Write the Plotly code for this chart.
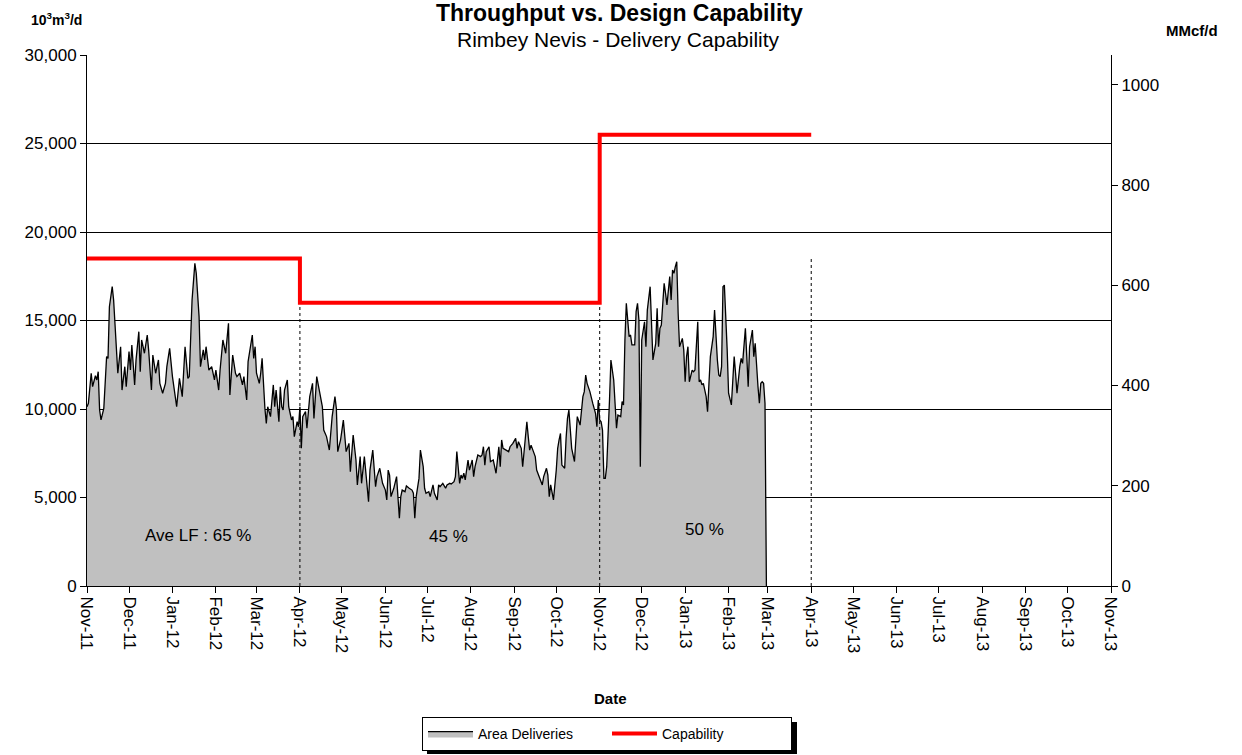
import pandas as pd
import plotly.graph_objects as go

# ---------------- data ----------------
start_date = "2011-11-01"

delivery_day = [
    0, 1, 3, 4, 6, 7, 8, 9, 10, 12, 14, 15, 16, 18, 19, 20, 22, 24, 25, 27, 28, 30, 31, 32, 34, 35, 37, 38, 39, 41,
    43, 44, 46, 47, 49, 51, 52, 54, 56, 57, 59, 61, 62, 64, 66, 68, 70, 72, 73, 75, 77, 78, 80, 81, 83, 84, 85, 87,
    89, 91, 92, 94, 95, 97, 99, 100, 101, 102, 104, 106, 107, 109, 111, 112, 114, 115, 116, 118, 119, 120, 121, 123,
    124, 125, 127, 128, 129, 131, 133, 134, 135, 137, 138, 139, 140, 141, 143, 144, 145, 146, 147, 148, 150, 151, 152,
    153, 154, 156, 157, 159, 161, 162, 164, 166, 168, 169, 171, 173, 175, 177, 178, 179, 181, 182, 183, 185, 187, 188,
    190, 192, 193, 195, 196, 198, 200, 201, 202, 204, 206, 207, 209, 211, 213, 214, 215, 216, 217, 219, 221, 222, 223,
    224, 225, 227, 228, 230, 232, 233, 234, 235, 237, 238, 240, 241, 242, 244, 245, 247, 248, 250, 251, 252, 254, 256,
    257, 259, 260, 262, 263, 264, 266, 267, 268, 269, 270, 272, 273, 274, 275, 276, 277, 279, 281, 282, 283, 284, 285,
    287, 288, 290, 292, 293, 294, 295, 296, 297, 299, 301, 302, 304, 306, 307, 308, 310, 311, 313, 314, 315, 316, 317,
    319, 320, 321, 323, 325, 326, 328, 329, 330, 331, 332, 333, 335, 336, 337, 338, 339, 341, 342, 343, 344, 345, 346,
    348, 349, 350, 352, 354, 355, 356, 357, 359, 361, 363, 364, 365, 366, 367, 368, 369, 370, 371, 373, 374, 376, 377,
    378, 379, 381, 382, 383, 384, 385, 387, 388, 389, 391, 392, 393, 394, 395, 396, 398, 399, 400, 402, 403, 404, 406,
    407, 408, 409, 410, 412, 413, 414, 416, 417, 418, 419, 420, 421, 422, 423, 425, 426, 427, 428, 429, 430, 432, 433,
    434, 436, 437, 438, 439, 440, 442, 443, 444, 445, 447, 448, 450, 451, 452, 453, 454, 455, 457, 458, 460, 461, 462,
    463, 464, 466, 467, 468, 470, 471, 472, 473, 475, 476, 477, 479, 480, 481, 482, 483, 484, 485,
]

delivery_value = [
    10130, 10320, 12020, 11260, 11880, 11640, 12110, 9940, 9380, 10040, 12960, 12860, 15780, 16910, 16160, 14650,
    12020, 13520, 11070, 12390, 11260, 13240, 12200, 13620, 11360, 12770, 14370, 12110, 13900, 13150, 14180, 13340,
    11070, 13050, 12020, 12770, 11450, 10890, 11450, 12390, 13430, 11830, 11260, 10130, 11730, 10700, 13520, 11730,
    11830, 16160, 18230, 17670, 15220, 12390, 13340, 12770, 13520, 12200, 12390, 11640, 12200, 11070, 12200, 13900,
    13150, 14090, 14840, 10790, 13050, 12020, 11830, 12020, 11360, 11830, 10510, 12680, 13150, 14180, 12860, 13520,
    12020, 11450, 12020, 12860, 10040, 9190, 10130, 9570, 11360, 10130, 11070, 9280, 11260, 10130, 9940, 11070, 11640,
    10130, 9760, 9380, 9570, 8440, 9280, 9000, 10130,
    7780, 9570, 9850, 8910, 10700, 11450, 9470, 11830, 10890, 10130, 8810, 8440, 7680, 9570, 10700, 10040, 7590, 8250,
    8810, 9380, 7590, 8060, 6460, 8530, 7120, 5710, 7310, 5800, 7310, 5610, 4760, 6550, 7680, 5610, 6180, 6650, 5800,
    5420, 4860, 6550, 6270, 5050, 5520, 6180, 4950, 3830, 5050, 5420, 5330, 5650, 5520, 5420, 5240, 3830, 5050, 6080,
    7680, 6740, 5520, 5240, 5330, 5050, 5710, 5240, 4860, 5710, 5610, 5800, 5520, 5710, 5800, 5760, 5890, 6180, 7590,
    5800, 6270, 6080, 6370, 6000, 7120, 6550, 6830, 7120, 6180, 6740, 7400, 7310, 7400, 7870, 6830, 7590, 7870, 7030,
    7120, 6370, 7120, 7870, 6740, 8250, 7780, 7680, 7590, 7870, 8060, 8340, 7780, 8150, 7780, 6740, 8440, 9280, 8440,
    7680, 7960, 7590, 7310, 6550, 6180, 5710, 6180, 6650, 6270, 5050, 5710, 5330, 4860, 6550, 7780, 8250, 8620, 6830,
    6650, 8340, 9470, 9940, 8810, 7780, 7030, 8720, 9570, 9090, 10700, 10980, 11920, 11450, 10980,
    10330, 9760, 9000, 10510, 9380, 9280, 8810, 6080, 6080, 6740, 10510, 12770, 11640, 10130, 8910, 9660, 9570, 10420,
    10230, 13900, 15970, 14090, 14180, 13620, 13620, 15500, 15970, 15030, 6740, 13900, 14930, 13520, 15590, 16910,
    14650, 12770, 13710, 15690, 13520, 14560, 14740, 17100, 16540, 15880, 17480, 16160, 17850, 17670, 18040, 18320,
    15410, 13520, 13990, 13340, 11540, 12960, 13520, 11540, 12200, 12110, 12200, 14930, 11540, 11640, 11360, 11450,
    10700, 9850, 11450, 12960, 14090, 15590, 12770, 11920, 11830, 12390, 16910, 17000, 13340, 10890, 10230, 11730,
    12960, 12020, 10890, 12390, 12860, 12580, 14560, 12960, 11260, 13520, 14460, 12960, 13710, 11260, 10330, 11450,
    11540, 11450, 10330, 0,
]

capability_dates = ["2011-11-01", "2012-04-01", "2012-11-01", "2013-04-01"]
capability_values = [18500, 16000, 25500, 25500]

separator_dates = ["2012-04-01", "2012-11-01", "2013-04-01"]
separator_heights = [17700, 17100, 18600]

lf_labels = ["Ave LF : 65 %", "45 %", "50 %"]
lf_dates = ["2012-01-19", "2012-07-16", "2013-01-15"]
lf_values = [2880, 2770, 3220]

M3_PER_MMCF_THOUSANDS = 28.3168  # 10^3 m3 per MMcf

# ---------------- build ----------------
dates = pd.Timestamp(start_date) + pd.to_timedelta(delivery_day, unit="D")

sep_x, sep_y = [], []
for d, h in zip(separator_dates, separator_heights):
    sep_x += [d, d, None]
    sep_y += [0, h, None]

FONT = "Liberation Sans, Arial, sans-serif"

# figure geometry (px) used to place paper-referenced texts
W, H = 1242, 755
ML, MR, MT, MB = 87, 131, 55, 169
PW, PH = W - ML - MR, H - MT - MB


def px(x):
    return (x - ML) / PW


def py(y):
    return (H - MB - y) / PH


fig = go.Figure()
fig.add_trace(go.Scatter(
    x=dates, y=delivery_value, name="Area Deliveries", mode="lines",
    fill="tozeroy", fillcolor="#C0C0C0", line=dict(color="black", width=1.3),
))
fig.add_trace(go.Scatter(
    x=sep_x, y=sep_y, mode="lines", showlegend=False, hoverinfo="skip",
    line=dict(color="black", width=1, dash="dot"),
))
fig.add_trace(go.Scatter(
    x=capability_dates, y=capability_values, name="Capability", mode="lines",
    line=dict(color="#FF0000", width=4, shape="hv"),
))
# right axis companion (MMcf/d), invisible
fig.add_trace(go.Scatter(
    x=capability_dates, y=[v / M3_PER_MMCF_THOUSANDS for v in capability_values],
    yaxis="y2", mode="lines", line=dict(width=0, color="rgba(0,0,0,0)"),
    showlegend=False, hoverinfo="skip",
))

for t, d, v in zip(lf_labels, lf_dates, lf_values):
    fig.add_annotation(x=d, y=v, xref="x", yref="y", text=t, showarrow=False,
                       xanchor="center", yanchor="middle",
                       font=dict(size=17, color="black", family=FONT))

fig.add_annotation(text="<b>Throughput vs. Design Capability</b>", xref="paper", yref="paper",
                   x=px(619), y=py(13), showarrow=False, xanchor="center", yanchor="middle",
                   font=dict(size=23, color="black", family=FONT))
fig.add_annotation(text="Rimbey Nevis - Delivery Capability", xref="paper", yref="paper",
                   x=px(618), y=py(40), showarrow=False, xanchor="center", yanchor="middle",
                   font=dict(size=21, color="black", family=FONT))
fig.add_annotation(text="<b>10<sup>3</sup>m<sup>3</sup>/d</b>", xref="paper", yref="paper",
                   x=px(56), y=py(19), showarrow=False, xanchor="center", yanchor="middle",
                   font=dict(size=14, color="black", family=FONT))
fig.add_annotation(text="<b>MMcf/d</b>", xref="paper", yref="paper",
                   x=px(1192), y=py(31), showarrow=False, xanchor="center", yanchor="middle",
                   font=dict(size=15, color="black", family=FONT))
fig.add_annotation(text="<b>Date</b>", xref="paper", yref="paper",
                   x=px(610), y=py(698), showarrow=False, xanchor="center", yanchor="middle",
                   font=dict(size=15, color="black", family=FONT))

# legend drop shadow (legend box drawn over it)
fig.add_shape(type="rect", xref="paper", yref="paper",
              x0=px(427), x1=px(797), y0=py(754), y1=py(722),
              fillcolor="black", line=dict(width=0), layer="above")

fig.update_layout(
    width=W, height=H,
    margin=dict(l=ML, r=MR, t=MT, b=MB, autoexpand=False),
    paper_bgcolor="white", plot_bgcolor="white",
    font=dict(family=FONT, size=17, color="black"),
    showlegend=True,
    legend=dict(orientation="h", x=px(607), xanchor="center", y=py(717), yanchor="top",
                bgcolor="white", bordercolor="black", borderwidth=1,
                font=dict(size=14, family=FONT), itemwidth=45,
                entrywidth=124, entrywidthmode="pixels"),
    xaxis=dict(
        type="date", range=["2011-11-01", "2013-11-01"],
        tick0="2011-11-01", dtick="M1", tickformat="%b-%y", tickangle=90,
        ticks="outside", ticklen=6, tickcolor="black",
        showline=True, linecolor="black", linewidth=1,
        showgrid=False, zeroline=False,
        tickfont=dict(size=17),
    ),
    yaxis=dict(
        range=[0, 30000], dtick=5000, tickformat=",d",
        ticks="outside", ticklen=6, tickcolor="black",
        showline=True, linecolor="black", linewidth=1,
        showgrid=True, gridcolor="black", gridwidth=1, zeroline=False,
        tickfont=dict(size=17),
    ),
    yaxis2=dict(
        overlaying="y", side="right",
        range=[0, 30000 / M3_PER_MMCF_THOUSANDS],
        tickvals=[0, 200, 400, 600, 800, 1000],
        ticks="outside", ticklen=6, tickcolor="black",
        showline=True, linecolor="black", linewidth=1,
        showgrid=False, zeroline=False,
        tickfont=dict(size=17),
    ),
)

fig.write_html("out.html", config={"displayModeBar": False},
               post_script="document.body.style.margin='0';")
